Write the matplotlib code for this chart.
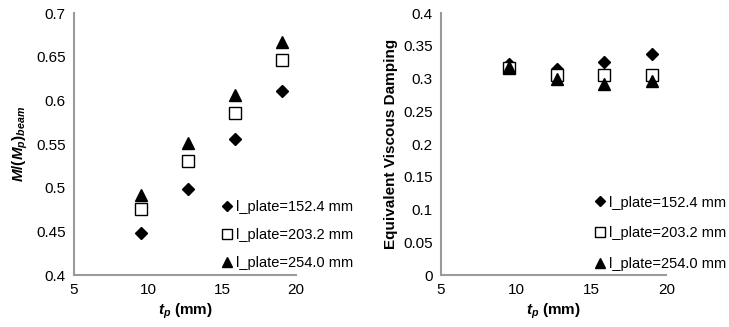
import matplotlib
matplotlib.use("Agg")
import matplotlib.pyplot as plt

plt.rcParams["font.family"] = ["Liberation Sans", "DejaVu Sans"]
plt.rcParams["font.size"] = 10
plt.rcParams["mathtext.fontset"] = "custom"
plt.rcParams["mathtext.it"] = "Liberation Sans:bold:italic"
plt.rcParams["mathtext.rm"] = "Liberation Sans:bold"
plt.rcParams["mathtext.bf"] = "Liberation Sans:bold"

# plate thickness (mm)
tp = [9.525, 12.7, 15.875, 19.05]
labels = ["l_plate=152.4 mm", "l_plate=203.2 mm", "l_plate=254.0 mm"]

# normalised moment M/(Mp)beam
moment_152 = [0.448, 0.499, 0.556, 0.611]
moment_203 = [0.476, 0.531, 0.586, 0.646]
moment_254 = [0.492, 0.551, 0.606, 0.667]

# equivalent viscous damping
damp_152 = [0.322, 0.314, 0.326, 0.338]
damp_203 = [0.316, 0.306, 0.305, 0.306]
damp_254 = [0.317, 0.300, 0.291, 0.296]

styles = [
    dict(marker="D", color="black", markersize=6),
    dict(marker="s", markerfacecolor="white", markeredgecolor="black", markersize=8, markeredgewidth=1),
    dict(marker="^", color="black", markersize=8),
]

fig = plt.figure(figsize=(7.29, 3.27), dpi=100)
ax1 = fig.add_axes([0.1015, 0.159, 0.3045, 0.801])
ax2 = fig.add_axes([0.605, 0.159, 0.309, 0.801])


def fmt(v):
    return ("%.2f" % v).rstrip("0").rstrip(".") if v != 0 else "0"


def draw(ax, series, ylim, yticks, ylabel, anchor, spacing):
    for vals, st, lab in zip(series, styles, labels):
        ax.plot(tp, vals, linestyle="none", label=lab, **st)
    ax.set_xlim(5, 20)
    ax.set_xticks([5, 10, 15, 20])
    ax.set_ylim(*ylim)
    ax.set_yticks(yticks)
    ax.set_yticklabels([fmt(v) for v in yticks])
    for s in ["top", "right"]:
        ax.spines[s].set_visible(False)
    for s in ["left", "bottom"]:
        ax.spines[s].set_color("#9a9a9a")
        ax.spines[s].set_linewidth(1.5)
    ax.tick_params(length=0, pad=6, labelsize=11)
    ax.set_xlabel(r"$t_p$ (mm)", fontweight="bold", fontsize=11, labelpad=3)
    ax.set_ylabel(ylabel, fontweight="bold", fontsize=11, labelpad=4)
    ax.legend(loc="lower left", bbox_to_anchor=anchor, frameon=False,
              handlelength=0.8, handletextpad=0.2, labelspacing=spacing,
              borderpad=0, borderaxespad=0, fontsize=10.5, markerscale=0.9)


draw(ax1, [moment_152, moment_203, moment_254], (0.4, 0.7),
     [0.4, 0.45, 0.5, 0.55, 0.6, 0.65, 0.7], r"$M/(M_p)_{beam}$", (0.665, 0.02), 0.95)
draw(ax2, [damp_152, damp_203, damp_254], (0, 0.4),
     [0, 0.05, 0.1, 0.15, 0.2, 0.25, 0.3, 0.35, 0.4],
     "Equivalent Viscous Damping", (0.68, 0.015), 1.15)

fig.savefig("out.png", dpi=100)
